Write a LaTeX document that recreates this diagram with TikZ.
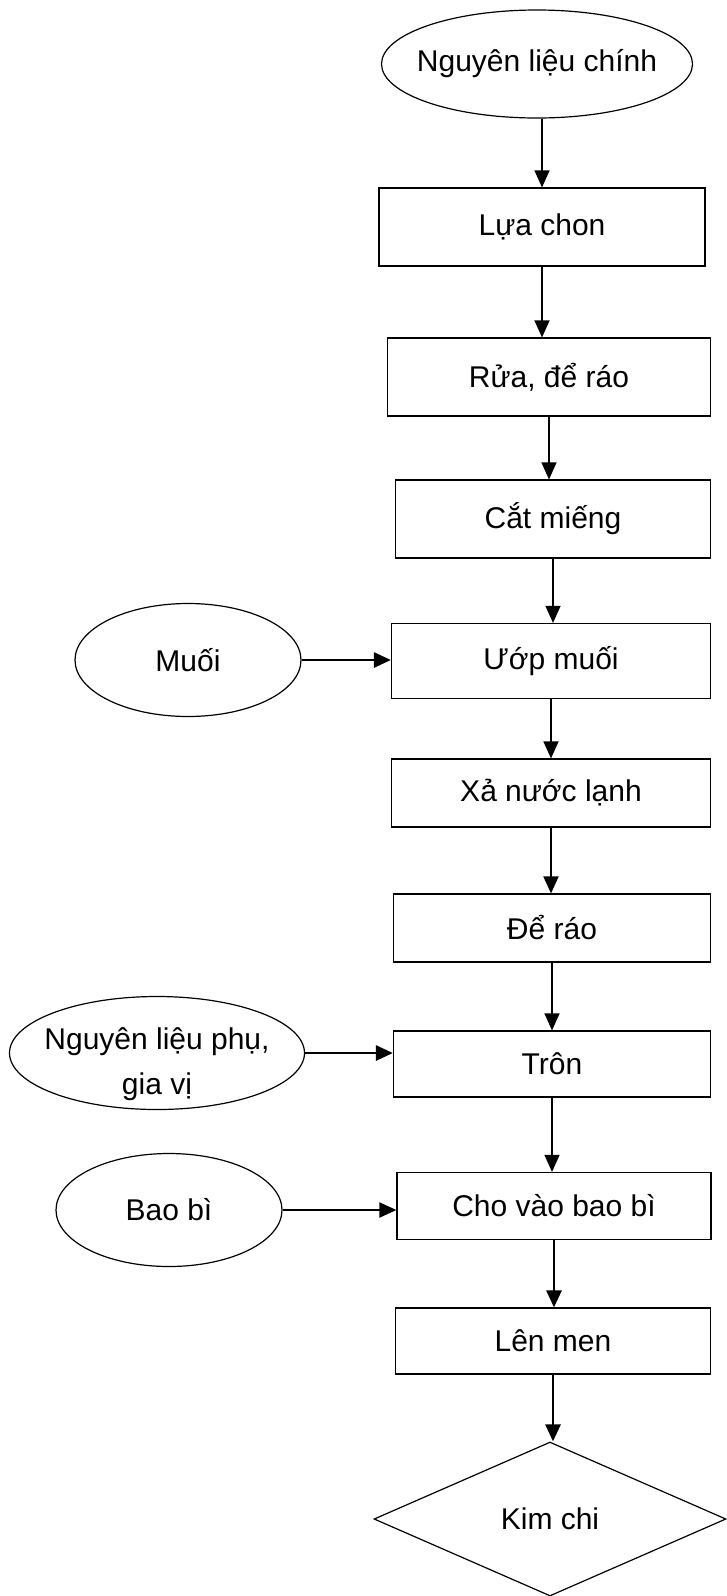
\documentclass[tikz,border=0pt]{standalone}
\usepackage{fontspec}
\setmainfont{Liberation Sans}
\usetikzlibrary{arrows.meta,shapes.geometric}
\tikzset{
  procbox/.style={rectangle, draw=black, line width=1.2pt, inner sep=0pt,
    minimum width=317pt, minimum height=68pt, font=\fontsize{30}{36}\selectfont},
  srcell/.style={ellipse, draw=black, line width=1.2pt, inner xsep=-30pt, inner ysep=0pt,
    minimum width=226pt, minimum height=113pt, font=\fontsize{30}{36}\selectfont},
  endmark/.style={diamond, draw=black, line width=1.2pt, inner sep=0pt,
    minimum width=352pt, minimum height=154pt, font=\fontsize{30}{36}\selectfont},
  lbl/.style={inner sep=0pt, align=center, font=\fontsize{30}{45}\selectfont},
  flow/.style={-{Triangle[length=17pt,width=15pt]}, line width=1.3pt},
  flowm/.style={flow, line width=2pt},
  flowb/.style={flow, line width=2.8pt}
}
\begin{document}
\begin{tikzpicture}[x=1pt,y=-1pt]
  \useasboundingbox (0,0) rectangle (726,1596);

  % main chain
  \node[srcell, minimum width=311pt, minimum height=108pt] (nlc) at (537,64) {Nguyên liệu chính};
  \node[procbox, minimum width=326pt, minimum height=78pt] (lc) at (542,227) {Lựa chon};
  \node[procbox, minimum width=323pt, minimum height=78pt] (rua) at (549,377) {Rửa, để ráo};
  \node[procbox, minimum width=315pt, minimum height=78pt] (cat) at (553,519) {Cắt miếng};
  \node[procbox, minimum width=319pt, minimum height=75pt] (uop) at (551,661) {Ướp muối};
  \node[procbox, minimum width=319pt] (xa) at (551,793) {Xả nước lạnh};
  \node[procbox] (dr) at (552,928) {Để ráo};
  \node[procbox, minimum height=66pt] (tron) at (552,1064) {Trôn};
  \node[procbox, minimum width=314pt, minimum height=67pt] (cho) at (554,1206) {Cho vào bao bì};
  \node[procbox, minimum width=315pt, minimum height=66pt] (len) at (553,1341) {Lên men};
  \node[endmark] (kc) at (550,1519) {Kim chi};

  % inputs on the left
  \node[srcell] (muoi) at (188,660) {Muối};
  \node[srcell, minimum width=295pt] (nlp) at (157,1053) {};
  \node[lbl] (nlptxt) at (157,1064) {Nguyên liệu phụ,\\gia vị};
  \node[srcell] (bao) at (169,1210) {Bao bì};

  \draw[flow] (nlc.south -| lc.north) -- (lc.north);
  \draw[flow] (lc.south) -- (lc.south |- rua.north);
  \draw[flow] (rua.south) -- (rua.south |- cat.north);
  \draw[flow] (cat.south) -- (cat.south |- uop.north);
  \draw[flow] (uop.south) -- (uop.south |- xa.north);
  \draw[flowm] (xa.south) -- (xa.south |- dr.north);
  \draw[flow] (dr.south) -- (dr.south |- tron.north);
  \draw[flow] (tron.south) -- (tron.south |- cho.north);
  \draw[flowb] (cho.south) -- (cho.south |- len.north);
  \draw[flowb] (len.south) -- (len.south |- kc.north);

  \draw[flowb] (muoi.east) -- (muoi.east -| uop.west);
  \draw[flowb] (nlp.east) -- (nlp.east -| tron.west);
  \draw[flowm] (bao.east) -- (bao.east -| cho.west);
\end{tikzpicture}
\end{document}
